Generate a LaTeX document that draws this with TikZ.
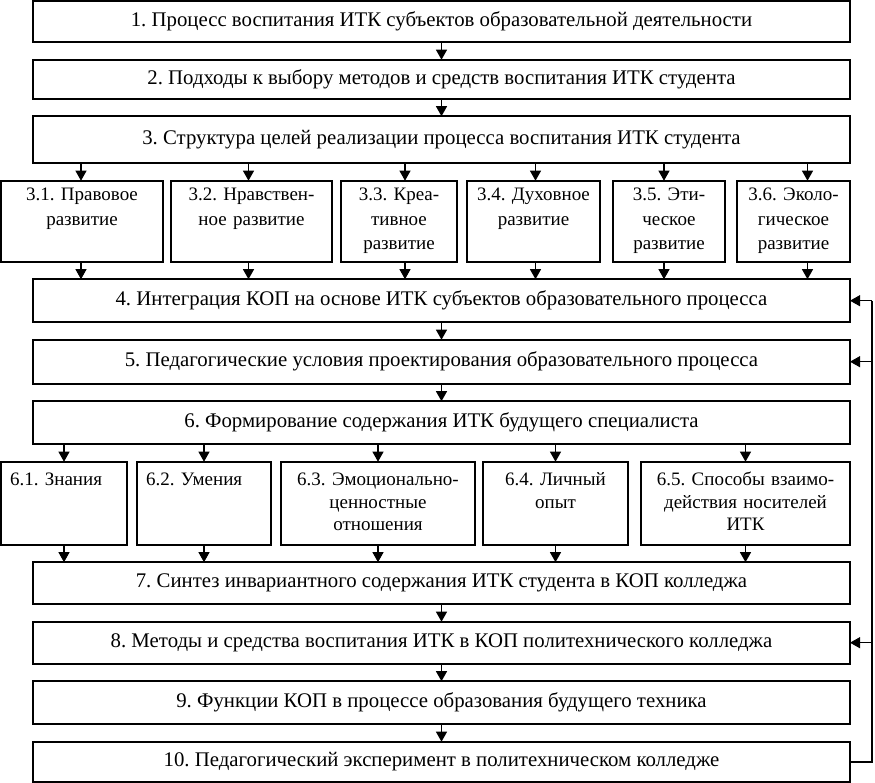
\documentclass[tikz,border=0pt]{standalone}
\usepackage{fontspec}
\setmainfont{Liberation Serif}
\newcommand\subfontA{\fontsize{19}{24.5}\selectfont}
\newcommand\subfontB{\fontsize{19}{22.5}\selectfont}
\usetikzlibrary{arrows.meta,positioning}

\begin{document}
\frenchspacing
\begin{tikzpicture}[
  x=1pt, y=1pt,
  font=\fontsize{20.8}{24}\selectfont,
  main/.style={draw, line width=1.8pt, minimum width=817pt, minimum height=42pt, inner sep=0pt, outer sep=0pt},
  subA/.style={draw, line width=1.8pt, text width=#1, align=center, inner xsep=4pt, inner ysep=5pt, outer sep=0pt,
    text height=15pt, text depth=56pt, font=\subfontA},
  subB/.style={draw, line width=1.8pt, text width=#1, align=center, inner xsep=4pt, inner ysep=5pt, outer sep=0pt,
    text height=19pt, text depth=54pt, font=\subfontB},
  subL/.style={subB=#1, align=left, inner xsep=9pt},
  >={Triangle[length=10pt,width=11pt]},
  arr/.style={->, line width=1.1pt},
  node distance=17.5pt,
]
\useasboundingbox (0,0) rectangle (875,-783);

% main column
\node[main, anchor=north west, minimum height=41pt] (b1) at (33,-1.2) {1. Процесс воспитания ИТК субъектов образовательной деятельности};
\node[main, below=of b1, minimum height=39pt] (b2) {2. Подходы к выбору методов и средств воспитания ИТК студента};
\node[main, below=of b2, minimum height=47pt] (b3) {3. Структура целей реализации процесса воспитания ИТК студента};

% goals
\node[subA=154pt, below=17.5pt of b3.south west, anchor=north west, xshift=-32pt] (b31) {3.1. Правовое\\развитие};
\node[subA=153pt, right=8pt of b31] (b32) {3.2. Нравствен-\\ное развитие};
\node[subA=108pt, right=9pt of b32] (b33) {3.3. Креа-\\тивное\\развитие};
\node[subA=125pt, right=10pt of b33] (b34) {3.4. Духовное\\развитие};
\node[subA=104pt, right=13pt of b34] (b35) {3.5. Эти-\\ческое\\развитие};
\node[subA=105pt, right=12pt of b35] (b36) {3.6. Эколо-\\гическое\\развитие};

\node[main, below=116pt of b3, minimum height=43pt] (b4) {4. Интеграция КОП на основе ИТК субъектов образовательного процесса};
\node[main, below=of b4, minimum height=44pt] (b5) {5. Педагогические условия проектирования образовательного процесса};
\node[main, below=of b5, minimum height=43pt] (b6) {6. Формирование содержания ИТК будущего специалиста};

% content
\node[subL=108pt, below=17.5pt of b6.south west, anchor=north west, xshift=-32pt] (b61) {6.1. Знания};
\node[subL=116pt, right=10pt of b61] (b62) {6.2. Умения};
\node[subB=186pt, right=10pt of b62] (b63) {6.3. Эмоционально-\\ценностные\\отношения};
\node[subB=137pt, right=8pt of b63] (b64) {6.4. Личный\\опыт};
\node[subB=201pt, right=13pt of b64] (b65) {6.5. Способы взаимо-\\действия носителей\\ИТК};

\node[main, below=118pt of b6] (b7) {7. Синтез инвариантного содержания ИТК студента в КОП колледжа};
\node[main, below=of b7] (b8) {8. Методы и средства воспитания ИТК в КОП политехнического колледжа};
\node[main, below=of b8, minimum height=43pt] (b9) {9. Функции КОП в процессе образования будущего техника};
\node[main, below=of b9, minimum height=40.5pt] (b10) {10. Педагогический эксперимент в политехническом колледже};

\draw[arr] (b1) -- (b2);
\draw[arr] (b2) -- (b3);
\draw[arr] (b4) -- (b5);
\draw[arr] (b5) -- (b6);
\draw[arr] (b7) -- (b8);
\draw[arr] (b8) -- (b9);
\draw[arr] (b9) -- (b10);

\foreach \n/\s in {b31/-1, b32/-3, b33/6, b34/2, b35/-5, b36/14} {
  \draw[arr] ([xshift=\s pt]b3.south -| \n.north) -- ([xshift=\s pt]\n.north);
  \draw[arr] ([xshift=\s pt]\n.south) -- ([xshift=\s pt]b4.north -| \n.south);
}
\foreach \n in {b61, b62, b63, b64, b65} {
  \draw[arr] (b6.south -| \n.north) -- (\n.north);
  \draw[arr] (\n.south) -- (b7.north -| \n.south);
}

% feedback
\coordinate (fb) at ([xshift=22pt]b4.east);
\draw[line width=1.1pt] (b10.east) -| (fb);
\draw[arr] (fb) -- (b4.east);
\draw[arr] (b5.east -| fb) -- (b5.east);
\draw[arr] (b8.east -| fb) -- (b8.east);
\end{tikzpicture}
\end{document}
